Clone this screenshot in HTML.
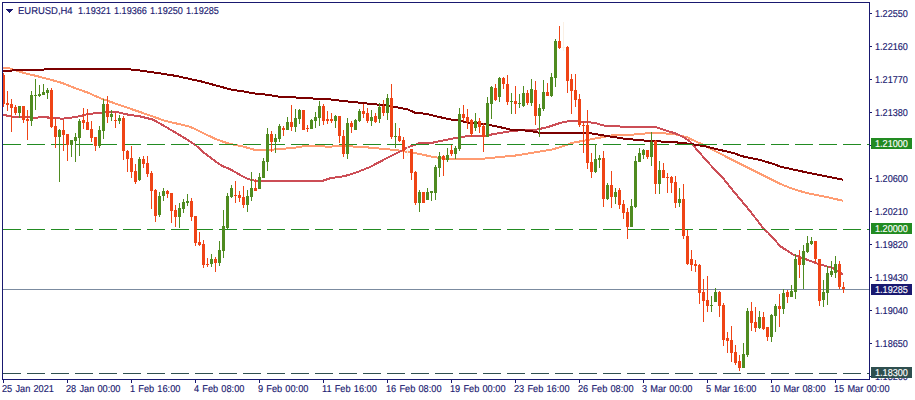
<!DOCTYPE html><html><head><meta charset="utf-8"><title>EURUSD,H4</title><style>
html,body{margin:0;padding:0;background:#fff}
#c{position:relative;width:915px;height:400px;overflow:hidden;background:#fff;font-family:"Liberation Sans",sans-serif;font-size:10px;line-height:11px;text-rendering:geometricPrecision;-webkit-text-stroke:0.15px;color:#191970}
#c div{position:absolute;white-space:nowrap;height:11px;transform:scaleX(0.92);transform-origin:0 0}
.w{color:#fff}#c .n{transform:scaleX(0.91)}
</style></head><body><div id="c">
<svg width="915" height="400" viewBox="0 0 915 400" style="position:absolute;left:0;top:0">
<g shape-rendering="crispEdges">
<polyline fill="none" stroke="#FF9C72" stroke-width="2" stroke-linejoin="round" points="3.0,68.0 8.0,68.0 12.0,69.2 20.0,71.8 25.0,73.2 37.7,76.3 50.0,79.5 62.8,83.2 75.4,88.3 88.0,92.7 100.5,98.3 113.0,102.7 115.0,103.5 140.0,112.0 165.0,120.8 190.0,126.7 215.5,139.0 228.0,143.4 230.0,143.9 242.6,146.4 255.0,149.9 267.7,149.9 280.0,149.1 293.0,147.9 305.0,146.1 318.0,146.4 330.5,146.6 343.0,145.8 345.0,146.0 370.0,147.6 382.7,148.9 395.0,149.9 407.8,152.0 420.0,154.0 433.0,157.0 445.5,158.7 458.0,159.0 480.0,159.0 500.0,157.0 515.0,155.6 551.7,149.6 560.5,147.0 573.0,142.7 587.6,140.0 600.0,137.6 612.7,135.3 625.0,134.8 637.8,134.4 650.0,132.8 663.0,133.2 675.5,134.4 688.0,137.6 692.6,140.0 705.0,145.6 730.3,158.9 755.4,171.5 780.5,184.0 793.0,189.0 805.7,192.8 830.8,197.9 843.4,200.9"/>
<polyline fill="none" stroke="#CC4E56" stroke-width="2" stroke-linejoin="round" points="3.0,114.5 7.5,115.8 12.5,116.7 37.7,117.7 40.0,116.7 47.5,116.7 48.0,117.7 62.8,118.7 75.4,117.0 81.7,115.8 88.0,113.9 100.5,112.9 113.0,111.7 115.0,111.6 127.5,114.5 140.0,116.4 152.7,119.5 165.0,126.4 177.8,134.0 187.9,140.0 195.4,145.0 203.0,151.9 215.5,161.4 221.8,165.8 230.0,169.2 242.6,176.3 247.6,178.8 255.0,180.7 278.0,180.7 280.0,181.3 288.0,181.3 290.0,180.7 323.0,180.7 330.5,178.2 343.0,176.3 345.0,176.0 357.6,172.0 370.0,167.0 382.7,160.3 395.0,154.0 402.8,150.0 407.8,147.4 420.0,143.0 433.0,142.6 445.5,140.0 458.0,137.6 460.0,137.0 472.6,135.8 485.0,135.8 497.7,133.3 510.0,131.4 522.8,130.0 535.4,129.9 548.0,127.0 560.5,122.9 570.5,120.7 575.0,121.2 593.8,122.7 604.0,125.5 622.7,126.7 655.0,126.7 663.0,129.6 675.5,133.4 680.0,135.5 685.0,138.0 690.0,141.5 692.6,144.0 697.5,150.5 710.0,164.5 722.5,177.5 735.0,193.0 747.5,208.0 755.4,218.0 760.4,224.5 764.2,229.3 768.0,232.5 780.5,246.4 793.0,254.5 807.7,260.0 820.0,264.5 832.8,268.0 843.0,274.6"/>
<polyline fill="none" stroke="#7C0000" stroke-width="2" stroke-linejoin="round" points="3.0,71.0 11.5,71.0 12.5,70.0 43.5,70.0 44.5,69.0 126.0,69.0 138.0,70.3 151.0,72.0 176.0,75.9 201.0,81.4 226.0,88.2 230.0,89.4 242.6,91.3 255.0,93.5 267.7,94.8 280.0,96.9 299.0,97.6 318.0,98.8 330.5,99.4 343.0,101.0 357.6,102.4 370.0,103.9 382.7,105.0 395.0,107.0 407.8,109.5 415.0,112.7 426.7,113.9 439.0,117.0 451.8,119.6 460.0,120.7 466.0,122.4 482.6,123.9 495.0,126.0 510.0,129.5 529.0,130.8 540.0,132.9 573.0,133.3 590.0,133.2 600.0,134.8 612.7,136.9 625.0,138.8 637.8,140.0 650.0,141.0 663.0,141.6 675.5,142.3 688.0,143.6 705.0,146.3 722.5,150.5 735.0,153.5 741.0,156.0 760.0,160.0 775.0,164.5 780.5,166.7 805.7,172.2 830.8,177.3 843.4,179.8"/>
</g>
<g shape-rendering="crispEdges">
<line x1="3" x2="869" y1="144.5" y2="144.5" stroke="#228B22" stroke-width="1" stroke-dasharray="18 6"/>
<line x1="3" x2="869" y1="229.5" y2="229.5" stroke="#228B22" stroke-width="1" stroke-dasharray="18 6"/>
<line x1="3" x2="869" y1="373.5" y2="373.5" stroke="#2F4F4F" stroke-width="1" stroke-dasharray="18 6"/>
<rect x="3" y="289" width="866" height="1" fill="#7B8BA0"/>
<path fill="#FBF0E4" d="M407 145h1v11h-1zM406 150h3v1h-3zM563 22h1v29h-1zM562 47h3v1h-3z"/>
<path fill="#4F8B20" d="M19 106h1v12h-1zM18 106h3v7h-3zM31 91h1v35h-1zM30 95h3v26h-3zM35 79h1v31h-1zM34 95h3v1h-3zM39 85h1v12h-1zM38 94h3v2h-3zM43 84h1v11h-1zM42 92h3v3h-3zM47 88h1v11h-1zM46 90h3v3h-3zM59 129h1v53h-1zM58 130h3v7h-3zM71 140h1v17h-1zM70 140h3v5h-3zM75 133h1v29h-1zM74 137h3v4h-3zM79 119h1v37h-1zM78 121h3v17h-3zM99 126h1v22h-1zM98 130h3v16h-3zM103 99h1v40h-1zM102 104h3v27h-3zM111 110h1v11h-1zM110 114h3v3h-3zM119 115h1v9h-1zM118 118h3v3h-3zM139 157h1v24h-1zM138 159h3v21h-3zM159 192h1v25h-1zM158 196h3v19h-3zM163 188h1v13h-1zM162 191h3v5h-3zM179 203h1v25h-1zM178 208h3v9h-3zM183 199h1v14h-1zM182 202h3v7h-3zM187 194h1v12h-1zM186 201h3v2h-3zM211 254h1v13h-1zM210 259h3v5h-3zM219 241h1v25h-1zM218 250h3v13h-3zM223 210h1v48h-1zM222 226h3v25h-3zM227 193h1v36h-1zM226 196h3v32h-3zM231 185h1v13h-1zM230 188h3v9h-3zM247 190h1v22h-1zM246 196h3v9h-3zM251 172h1v29h-1zM250 188h3v9h-3zM259 173h1v16h-1zM258 177h3v12h-3zM263 158h1v20h-1zM262 161h3v17h-3zM267 128h1v43h-1zM266 134h3v28h-3zM275 134h1v19h-1zM274 138h3v4h-3zM279 124h1v18h-1zM278 126h3v13h-3zM287 117h1v13h-1zM286 122h3v8h-3zM295 109h1v23h-1zM294 118h3v9h-3zM299 109h1v15h-1zM298 110h3v9h-3zM311 119h1v10h-1zM310 120h3v9h-3zM315 112h1v16h-1zM314 117h3v4h-3zM319 101h1v25h-1zM318 106h3v12h-3zM335 115h1v13h-1zM334 116h3v5h-3zM347 118h1v41h-1zM346 123h3v31h-3zM355 119h1v11h-1zM354 120h3v10h-3zM359 109h1v13h-1zM358 111h3v10h-3zM371 110h1v16h-1zM370 117h3v4h-3zM379 103h1v20h-1zM378 107h3v12h-3zM387 94h1v26h-1zM386 98h3v15h-3zM395 123h1v25h-1zM394 136h3v1h-3zM419 190h1v22h-1zM418 192h3v11h-3zM427 188h1v12h-1zM426 192h3v8h-3zM431 191h1v10h-1zM430 191h3v2h-3zM435 165h1v35h-1zM434 167h3v26h-3zM439 152h1v25h-1zM438 156h3v12h-3zM447 148h1v14h-1zM446 155h3v5h-3zM455 146h1v13h-1zM454 148h3v6h-3zM459 108h1v43h-1zM458 114h3v35h-3zM475 113h1v18h-1zM474 121h3v7h-3zM487 97h1v40h-1zM486 103h3v34h-3zM491 86h1v33h-1zM490 87h3v17h-3zM499 77h1v25h-1zM498 78h3v19h-3zM511 93h1v21h-1zM510 101h3v1h-3zM519 94h1v14h-1zM518 103h3v1h-3zM523 86h1v21h-1zM522 93h3v13h-3zM531 79h1v27h-1zM530 89h3v14h-3zM539 104h1v33h-1zM538 108h3v8h-3zM543 80h1v31h-1zM542 92h3v17h-3zM551 73h1v24h-1zM550 77h3v19h-3zM555 39h1v48h-1zM554 41h3v37h-3zM595 144h1v29h-1zM594 159h3v13h-3zM599 155h1v13h-1zM598 158h3v2h-3zM607 183h1v17h-1zM606 185h3v14h-3zM615 188h1v16h-1zM614 192h3v5h-3zM631 199h1v28h-1zM630 206h3v21h-3zM635 156h1v52h-1zM634 161h3v46h-3zM639 148h1v14h-1zM638 153h3v9h-3zM643 149h1v10h-1zM642 150h3v5h-3zM651 132h1v34h-1zM650 142h3v15h-3zM659 161h1v33h-1zM658 170h3v14h-3zM679 188h1v19h-1zM678 199h3v4h-3zM711 296h1v16h-1zM710 305h3v1h-3zM715 288h1v14h-1zM714 292h3v10h-3zM743 343h1v25h-1zM742 354h3v14h-3zM747 308h1v49h-1zM746 311h3v44h-3zM759 311h1v18h-1zM758 317h3v11h-3zM771 314h1v28h-1zM770 315h3v22h-3zM775 304h1v28h-1zM774 306h3v10h-3zM783 289h1v25h-1zM782 293h3v16h-3zM791 285h1v12h-1zM790 291h3v6h-3zM795 254h1v45h-1zM794 259h3v33h-3zM803 245h1v44h-1zM802 251h3v14h-3zM807 236h1v17h-1zM806 243h3v9h-3zM811 237h1v8h-1zM810 241h3v3h-3zM823 280h1v27h-1zM822 292h3v8h-3zM827 266h1v39h-1zM826 273h3v20h-3zM831 261h1v16h-1zM830 271h3v4h-3zM835 256h1v22h-1zM834 264h3v9h-3z"/>
<path fill="#EF4416" d="M3 73h1v34h-1zM2 75h3v29h-3zM7 91h1v20h-1zM6 103h3v2h-3zM11 99h1v33h-1zM10 104h3v4h-3zM15 105h1v10h-1zM14 107h3v6h-3zM23 106h1v17h-1zM22 106h3v14h-3zM27 110h1v30h-1zM26 119h3v2h-3zM51 88h1v40h-1zM50 90h3v37h-3zM55 118h1v30h-1zM54 126h3v11h-3zM63 120h1v31h-1zM62 130h3v5h-3zM67 134h1v27h-1zM66 134h3v11h-3zM83 108h1v21h-1zM82 120h3v3h-3zM87 109h1v21h-1zM86 122h3v8h-3zM91 121h1v21h-1zM90 129h3v9h-3zM95 137h1v14h-1zM94 137h3v9h-3zM107 96h1v27h-1zM106 104h3v13h-3zM115 113h1v15h-1zM114 120h3v1h-3zM123 116h1v44h-1zM122 118h3v33h-3zM127 150h1v22h-1zM126 151h3v8h-3zM131 146h1v32h-1zM130 158h3v14h-3zM135 164h1v20h-1zM134 171h3v11h-3zM143 156h1v12h-1zM142 159h3v5h-3zM147 156h1v21h-1zM146 163h3v11h-3zM151 171h1v38h-1zM150 173h3v18h-3zM155 189h1v33h-1zM154 190h3v26h-3zM167 190h1v8h-1zM166 191h3v3h-3zM171 193h1v30h-1zM170 193h3v18h-3zM175 205h1v22h-1zM174 210h3v7h-3zM191 198h1v23h-1zM190 201h3v16h-3zM195 216h1v30h-1zM194 216h3v27h-3zM199 232h1v14h-1zM198 242h3v3h-3zM203 240h1v28h-1zM202 244h3v21h-3zM207 258h1v9h-1zM206 264h3v1h-3zM215 257h1v15h-1zM214 259h3v4h-3zM235 181h1v22h-1zM234 195h3v1h-3zM239 191h1v11h-1zM238 195h3v3h-3zM243 186h1v22h-1zM242 197h3v8h-3zM255 179h1v12h-1zM254 188h3v3h-3zM271 131h1v21h-1zM270 134h3v8h-3zM283 126h1v10h-1zM282 128h3v2h-3zM291 105h1v26h-1zM290 122h3v5h-3zM303 110h1v20h-1zM302 110h3v20h-3zM307 125h1v7h-1zM306 128h3v1h-3zM323 104h1v21h-1zM322 106h3v15h-3zM327 111h1v13h-1zM326 119h3v2h-3zM331 113h1v10h-1zM330 119h3v2h-3zM339 116h1v27h-1zM338 116h3v20h-3zM343 130h1v27h-1zM342 136h3v18h-3zM351 121h1v12h-1zM350 123h3v4h-3zM363 104h1v14h-1zM362 111h3v3h-3zM367 108h1v15h-1zM366 113h3v8h-3zM375 113h1v10h-1zM374 116h3v6h-3zM383 100h1v16h-1zM382 106h3v7h-3zM391 84h1v55h-1zM390 98h3v39h-3zM399 128h1v14h-1zM398 136h3v5h-3zM403 137h1v22h-1zM402 140h3v11h-3zM411 149h1v31h-1zM410 149h3v24h-3zM415 171h1v34h-1zM414 172h3v31h-3zM423 192h1v11h-1zM422 192h3v11h-3zM443 155h1v21h-1zM442 156h3v4h-3zM451 145h1v11h-1zM450 150h3v4h-3zM463 105h1v16h-1zM462 114h3v4h-3zM467 109h1v20h-1zM466 117h3v5h-3zM471 119h1v18h-1zM470 120h3v14h-3zM479 118h1v15h-1zM478 121h3v6h-3zM483 123h1v29h-1zM482 126h3v11h-3zM495 84h1v17h-1zM494 88h3v12h-3zM503 77h1v12h-1zM502 78h3v6h-3zM507 75h1v30h-1zM506 84h3v18h-3zM515 86h1v28h-1zM514 101h3v3h-3zM527 90h1v15h-1zM526 93h3v10h-3zM535 81h1v44h-1zM534 90h3v26h-3zM547 83h1v13h-1zM546 92h3v4h-3zM559 26h1v23h-1zM558 41h3v7h-3zM567 46h1v47h-1zM566 47h3v34h-3zM571 74h1v40h-1zM570 79h3v12h-3zM575 74h1v33h-1zM574 90h3v10h-3zM579 94h1v33h-1zM578 99h3v26h-3zM583 121h1v32h-1zM582 125h3v1h-3zM587 110h1v59h-1zM586 125h3v38h-3zM591 153h1v25h-1zM590 162h3v10h-3zM603 151h1v56h-1zM602 158h3v41h-3zM611 171h1v37h-1zM610 185h3v12h-3zM619 188h1v21h-1zM618 190h3v15h-3zM623 200h1v19h-1zM622 204h3v9h-3zM627 208h1v31h-1zM626 212h3v15h-3zM647 150h1v9h-1zM646 150h3v7h-3zM655 140h1v54h-1zM654 141h3v43h-3zM663 163h1v15h-1zM662 170h3v8h-3zM667 173h1v20h-1zM666 177h3v1h-3zM671 176h1v17h-1zM670 177h3v6h-3zM675 176h1v32h-1zM674 182h3v21h-3zM683 184h1v55h-1zM682 199h3v37h-3zM687 230h1v35h-1zM686 236h3v28h-3zM691 250h1v21h-1zM690 259h3v6h-3zM695 260h1v12h-1zM694 264h3v2h-3zM699 264h1v40h-1zM698 265h3v28h-3zM703 279h1v43h-1zM702 292h3v9h-3zM707 276h1v36h-1zM706 300h3v6h-3zM719 291h1v26h-1zM718 292h3v14h-3zM723 303h1v43h-1zM722 305h3v35h-3zM727 332h1v21h-1zM726 338h3v3h-3zM731 326h1v36h-1zM730 340h3v13h-3zM735 345h1v20h-1zM734 352h3v11h-3zM739 355h1v16h-1zM738 361h3v7h-3zM751 302h1v29h-1zM750 311h3v12h-3zM755 307h1v25h-1zM754 322h3v6h-3zM763 312h1v18h-1zM762 317h3v12h-3zM767 327h1v14h-1zM766 327h3v10h-3zM779 294h1v33h-1zM778 306h3v3h-3zM787 290h1v13h-1zM786 292h3v5h-3zM799 250h1v28h-1zM798 258h3v7h-3zM815 241h1v22h-1zM814 241h3v18h-3zM819 259h1v47h-1zM818 259h3v42h-3zM839 261h1v28h-1zM838 264h3v23h-3zM843 282h1v11h-1zM842 287h3v2h-3z"/>
<path fill="#191970" d="M2 2h868v1h-868zM2 2h1v378h-1zM869 2h1v378h-1zM2 379h868v1h-868z"/>
<path fill="#191970" d="M870 13h2v1h-2zM870 46h2v1h-2zM870 79h2v1h-2zM870 112h2v1h-2zM870 145h2v1h-2zM870 178h2v1h-2zM870 211h2v1h-2zM870 244h2v1h-2zM870 277h2v1h-2zM870 310h2v1h-2zM870 343h2v1h-2zM870 376h2v1h-2zM3 380h1v3h-1zM67 380h1v3h-1zM131 380h1v3h-1zM195 380h1v3h-1zM259 380h1v3h-1zM323 380h1v3h-1zM387 380h1v3h-1zM451 380h1v3h-1zM515 380h1v3h-1zM579 380h1v3h-1zM643 380h1v3h-1zM707 380h1v3h-1zM771 380h1v3h-1zM835 380h1v3h-1z"/>
<path fill="#191970" d="M6 9h7v1h-7zM7 10h5v1h-5zM8 11h3v1h-3zM9 12h1v1h-1z"/>
<rect x="871" y="138" width="41" height="11" fill="#228B22"/>
<rect x="871" y="223" width="41" height="11" fill="#228B22"/>
<rect x="871" y="284" width="41" height="11" fill="#191970"/>
</g>
</svg>
<div style="left:18px;top:6px;transform:scaleX(0.945)">EURUSD,H4</div>
<div class="n" style="left:78.1px;top:6px">1.19321</div>
<div class="n" style="left:113.89999999999999px;top:6px">1.19366</div>
<div class="n" style="left:150.0px;top:6px">1.19250</div>
<div class="n" style="left:186.1px;top:6px">1.19285</div>
<div class="n" style="left:874.7px;top:9px">1.22550</div>
<div class="n" style="left:874.7px;top:42px">1.22160</div>
<div class="n" style="left:874.7px;top:75px">1.21770</div>
<div class="n" style="left:874.7px;top:108px">1.21380</div>
<div class="n" style="left:874.7px;top:174px">1.20600</div>
<div class="n" style="left:874.7px;top:207px">1.20210</div>
<div class="n" style="left:874.7px;top:240px">1.19820</div>
<div class="n" style="left:874.7px;top:273px">1.19430</div>
<div class="n" style="left:874.7px;top:306px">1.19040</div>
<div class="n" style="left:874.7px;top:339px">1.18650</div>
<div class="n" style="left:874.7px;top:372px">1.18260</div>
<div style="left:871px;top:367px;width:41px;height:11px;background:#2F4F4F;transform:none"></div>
<div class="w n" style="left:874.7px;top:139px">1.21000</div>
<div class="w n" style="left:874.7px;top:224px">1.20000</div>
<div class="w n" style="left:874.7px;top:285px">1.19285</div>
<div class="w n" style="left:874.7px;top:368px">1.18300</div>
<div style="left:2px;top:384px;word-spacing:0.7px">25 Jan 2021</div>
<div style="left:66px;top:384px;word-spacing:0.7px">28 Jan 00:00</div>
<div style="left:130px;top:384px;word-spacing:0.7px">1 Feb 16:00</div>
<div style="left:194px;top:384px;word-spacing:0.7px">4 Feb 08:00</div>
<div style="left:258px;top:384px;word-spacing:0.7px">9 Feb 00:00</div>
<div style="left:322px;top:384px;word-spacing:0.7px">11 Feb 16:00</div>
<div style="left:386px;top:384px;word-spacing:0.7px">16 Feb 08:00</div>
<div style="left:450px;top:384px;word-spacing:0.7px">19 Feb 00:00</div>
<div style="left:514px;top:384px;word-spacing:0.7px">23 Feb 16:00</div>
<div style="left:578px;top:384px;word-spacing:0.7px">26 Feb 08:00</div>
<div style="left:642px;top:384px;word-spacing:0.7px">3 Mar 00:00</div>
<div style="left:706px;top:384px;word-spacing:0.7px">5 Mar 16:00</div>
<div style="left:770px;top:384px;word-spacing:0.7px">10 Mar 08:00</div>
<div style="left:834px;top:384px;word-spacing:0.7px">15 Mar 00:00</div>
</div></body></html>
